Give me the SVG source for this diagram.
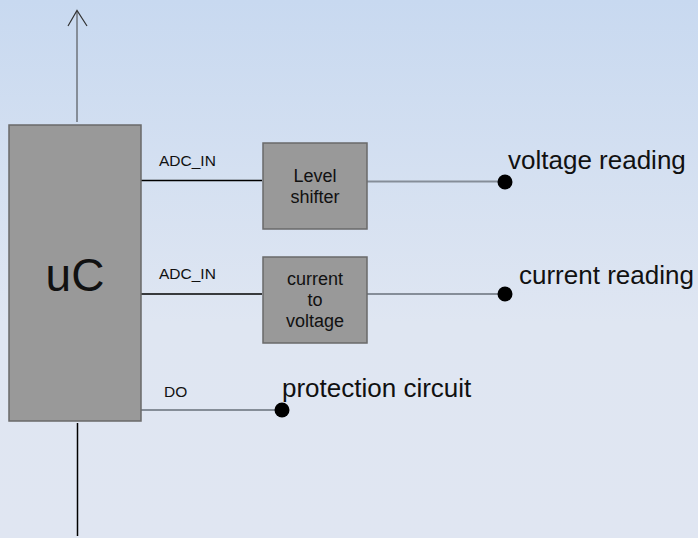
<svg xmlns="http://www.w3.org/2000/svg" width="698" height="538" viewBox="0 0 698 538">
<defs>
<linearGradient id="bg" x1="0" y1="0" x2="0" y2="1">
<stop offset="0" stop-color="#c8d9f0"/>
<stop offset="0.6" stop-color="#dfe6f2"/>
<stop offset="1" stop-color="#e0e6f2"/>
</linearGradient>
<style>
.box{fill:#999999;stroke:#6a6a6a;stroke-width:1.5}
.t{font-family:"Liberation Sans",Arial,sans-serif;fill:#111}
.lbl{font-size:15.5px}
.big{font-size:26px}
.in{font-size:18px;text-anchor:middle}
.blk{stroke:#000;stroke-width:1.5;fill:none}
.gry{stroke:#858d98;stroke-width:2;fill:none}
</style>
</defs>
<rect width="698" height="538" fill="url(#bg)"/>
<g id="connectors">
<line class="gry" x1="77" y1="122" x2="77" y2="11"/>
<polyline points="68,26 77,10.5 87,26" fill="none" stroke="#333" stroke-width="1.2"/>
<line class="blk" x1="77.5" y1="423" x2="77.5" y2="536"/>
<line class="blk" x1="141" y1="180.5" x2="262" y2="180.5"/>
<line class="gry" x1="367" y1="181.5" x2="505" y2="181.5"/>
<line class="blk" x1="141" y1="294" x2="262" y2="294"/>
<line class="gry" x1="367" y1="294" x2="505" y2="294"/>
<line class="gry" x1="141" y1="410" x2="282" y2="410"/>
</g>
<g id="uC">
<rect class="box" x="9" y="125" width="132" height="296"/>
<text class="t" x="75" y="291" font-size="46" text-anchor="middle">uC</text>
</g>
<g id="level-shifter">
<rect class="box" x="263" y="143" width="104" height="86"/>
<text class="t in" x="315" y="182">Level</text>
<text class="t in" x="315" y="203">shifter</text>
</g>
<g id="current-to-voltage">
<rect class="box" x="263" y="257" width="104" height="86"/>
<text class="t in" x="315" y="285">current</text>
<text class="t in" x="315" y="306">to</text>
<text class="t in" x="315" y="327">voltage</text>
</g>
<g id="labels">
<text class="t lbl" x="159" y="166">ADC_IN</text>
<text class="t lbl" x="159" y="279">ADC_IN</text>
<text class="t lbl" x="164" y="397">DO</text>
</g>
<g id="voltage-reading">
<circle cx="505" cy="182" r="7.5" fill="#000"/>
<text class="t big" x="508" y="169">voltage reading</text>
</g>
<g id="current-reading">
<circle cx="505" cy="294" r="7.5" fill="#000"/>
<text class="t big" x="519" y="284">current reading</text>
</g>
<g id="protection-circuit">
<circle cx="282" cy="410" r="7.5" fill="#000"/>
<text class="t big" x="282" y="397">protection circuit</text>
</g>
</svg>
